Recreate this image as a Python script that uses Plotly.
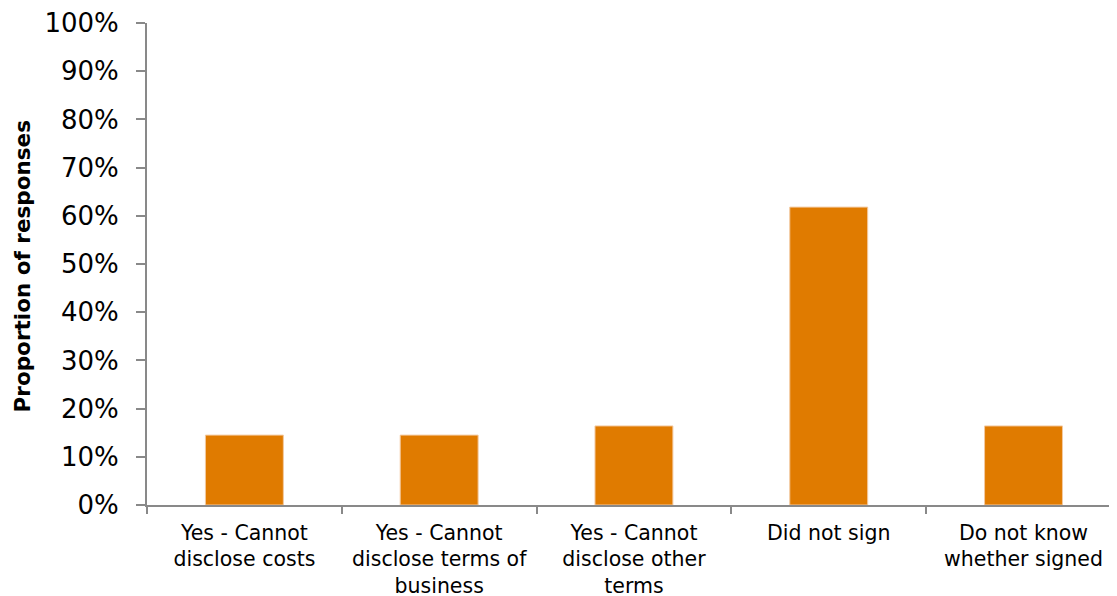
import plotly.graph_objects as go

categories = [
    "Yes - Cannot<br>disclose costs",
    "Yes - Cannot<br>disclose terms of<br>business",
    "Yes - Cannot<br>disclose other<br>terms",
    "Did not sign",
    "Do not know<br>whether signed",
]
values = [0.145, 0.145, 0.164, 0.618, 0.164]

axis_color = "#898989"
font_family = "DejaVu Sans, Verdana, sans-serif"

fig = go.Figure(
    go.Bar(
        x=categories,
        y=values,
        marker=dict(color="#E07B00", line=dict(color="#F3C9A0", width=1)),
        width=0.4,
    )
)

# page body has an 8px margin, so the figure is sized to fill the rest
fig.update_layout(
    width=1109,
    height=588,
    margin=dict(l=139, r=0, t=15, b=91),
    plot_bgcolor="white",
    paper_bgcolor="white",
    showlegend=False,
    font=dict(family=font_family, color="black"),
)

fig.update_xaxes(
    showline=True,
    linecolor=axis_color,
    linewidth=2,
    ticks="outside",
    ticklen=7,
    tickwidth=1.5,
    tickcolor=axis_color,
    tickson="boundaries",
    tickfont=dict(size=20.5, family=font_family),
    ticklabelstandoff=8,
    showgrid=False,
    automargin=False,
    range=[-0.5, 4.48],
)

fig.update_yaxes(
    range=[0, 1],
    dtick=0.1,
    tickformat=".0%",
    showline=True,
    linecolor=axis_color,
    linewidth=2,
    ticks="outside",
    ticklen=9,
    tickwidth=1.5,
    tickcolor=axis_color,
    tickfont=dict(size=26, family=font_family),
    ticklabelstandoff=12,
    showgrid=False,
    zeroline=False,
    automargin=False,
)

fig.add_annotation(
    text="<b>Proportion of responses</b>",
    xref="paper",
    yref="paper",
    x=(22 - 147) / 970,
    y=0.495,
    xanchor="center",
    yanchor="middle",
    textangle=-90,
    showarrow=False,
    font=dict(size=21.5, family=font_family, color="black"),
)

fig.write_html("out.html")
